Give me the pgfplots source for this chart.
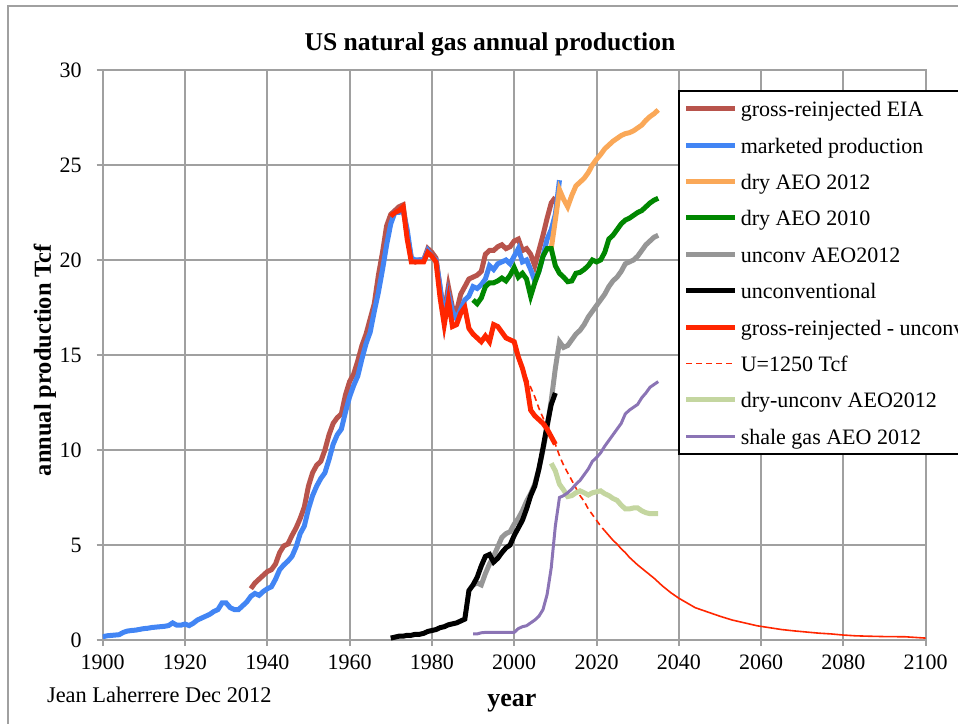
\documentclass[border=0pt]{standalone}
\usepackage{fontspec}
\setmainfont{Liberation Serif}
\usepackage{pgfplots}
\pgfplotsset{compat=1.18}
\definecolor{gridgray}{RGB}{160,160,160}
\definecolor{cbrown}{RGB}{184,84,76}
\definecolor{cblue}{RGB}{66,133,244}
\definecolor{corange}{RGB}{250,168,88}
\definecolor{cgreen}{RGB}{0,135,0}
\definecolor{cgray}{RGB}{150,150,150}
\definecolor{cred}{RGB}{255,38,0}
\definecolor{clgreen}{RGB}{196,214,160}
\definecolor{cpurple}{RGB}{139,116,181}
\begin{document}
\begin{tikzpicture}
\useasboundingbox (-51.35pt,-41.5pt) rectangle (427.65pt,320pt);
\draw[gridgray, line width=1pt] (-47.35pt,-80pt) rectangle (480pt,317pt);
\begin{axis}[
  at={(0pt,0pt)}, anchor=south west,
  scale only axis, width=411.5pt, height=285pt,
  xmin=1900, xmax=2100, ymin=0, ymax=30,
  xtick={1900,1920,...,2100}, ytick={0,5,...,30},
  xtick pos=bottom, ytick pos=left,
  grid=major, major grid style={draw=gridgray, line width=1pt},
  axis line style={draw=gridgray, line width=1pt},
  tick style={draw=gridgray, line width=1pt}, tick align=outside, major tick length=3pt,
  /pgf/number format/assume math mode=true,
  /pgf/number format/1000 sep={},
  xticklabel style={font=\fontsize{11}{13}\selectfont, yshift=-1pt},
  yticklabel style={font=\fontsize{11}{13}\selectfont, xshift=-4pt},
  title={US natural gas annual production},
  title style={at={(axis description cs:0.4706,1.0245)}, anchor=center, yshift=0pt, font=\bfseries\fontsize{12.8}{15}\selectfont},
  xlabel={year},
  xlabel style={at={(axis description cs:0.4973,-0.1105)}, anchor=center, font=\bfseries\fontsize{13}{15}\selectfont},
  ylabel={annual production Tcf},
  ylabel style={at={(axis description cs:-0.0701,0.491)}, anchor=center, font=\bfseries\fontsize{12.2}{15}\selectfont},
  legend cell align=left,
  legend image code/.code={\draw[#1] (0pt,0pt) -- (24.5pt,0pt); \path (25.9pt,0pt);},
  legend style={at={(axis description cs:0.699,0.965)}, anchor=north west,
    draw=black, line width=1pt, fill=white,
    inner xsep=2.5pt, inner ysep=4.4pt, row sep=9.2pt,
    font=\fontsize{11}{13}\selectfont,
    nodes={inner sep=0pt, text height=8.5pt, text depth=0.5pt}},
]
% gross-reinjected EIA
\addplot[cbrown, line width=2.5pt] coordinates {
(1936,2.7)(1937,3.0)(1938,3.2)(1939,3.4)(1940,3.6)(1941,3.7)(1942,4.0)(1943,4.6)(1944,4.95)(1945,5.05)
(1946,5.5)(1947,5.9)(1948,6.4)(1949,7.0)(1950,8.1)(1951,8.8)(1952,9.2)(1953,9.4)(1954,10.0)(1955,10.8)
(1956,11.4)(1957,11.7)(1958,11.9)(1959,12.9)(1960,13.6)(1961,14.0)(1962,14.7)(1963,15.5)(1964,16.1)(1965,16.9)
(1966,17.7)(1967,19.2)(1968,20.4)(1969,21.8)(1970,22.4)(1971,22.6)(1972,22.8)(1973,22.9)(1974,21.3)(1975,20.1)
(1976,19.9)(1977,20.0)(1978,20.0)(1979,20.6)(1980,20.4)(1981,20.1)(1982,18.5)(1983,17.2)(1984,18.6)(1985,17.5)
(1986,17.3)(1987,18.2)(1988,18.6)(1989,19.0)(1990,19.1)(1991,19.2)(1992,19.4)(1993,20.3)(1994,20.5)(1995,20.5)
(1996,20.7)(1997,20.8)(1998,20.6)(1999,20.7)(2000,21.0)(2001,21.1)(2002,20.5)(2003,20.6)(2004,20.3)(2005,19.7)
(2006,20.5)(2007,21.3)(2008,22.2)(2009,23.0)(2010,23.3)};
\addlegendentry{gross-reinjected EIA}
% marketed production
\addplot[cblue, line width=2.5pt] coordinates {
(1900,0.17)(1901,0.22)(1902,0.24)(1903,0.26)(1904,0.28)(1905,0.4)(1906,0.47)(1907,0.5)(1908,0.52)(1909,0.56)
(1910,0.6)(1911,0.62)(1912,0.66)(1913,0.68)(1914,0.7)(1915,0.72)(1916,0.76)(1917,0.9)(1918,0.78)(1919,0.78)
(1920,0.84)(1921,0.76)(1922,0.88)(1923,1.05)(1924,1.15)(1925,1.25)(1926,1.35)(1927,1.5)(1928,1.6)(1929,1.95)
(1930,1.95)(1931,1.7)(1932,1.6)(1933,1.6)(1934,1.8)(1935,2.0)(1936,2.3)(1937,2.45)(1938,2.35)(1939,2.55)
(1940,2.7)(1941,2.8)(1942,3.2)(1943,3.7)(1944,3.95)(1945,4.15)(1946,4.4)(1947,4.9)(1948,5.6)(1949,6.0)
(1950,6.9)(1951,7.6)(1952,8.1)(1953,8.5)(1954,8.8)(1955,9.5)(1956,10.3)(1957,10.8)(1958,11.1)(1959,12.0)
(1960,12.8)(1961,13.4)(1962,13.9)(1963,14.8)(1964,15.6)(1965,16.2)(1966,17.3)(1967,18.3)(1968,19.5)(1969,20.8)
(1970,21.9)(1971,22.5)(1972,22.5)(1973,22.6)(1974,21.6)(1975,20.1)(1976,20.0)(1977,20.0)(1978,20.0)(1979,20.5)
(1980,20.2)(1981,20.0)(1982,18.6)(1983,16.8)(1984,18.2)(1985,17.3)(1986,16.9)(1987,17.4)(1988,17.9)(1989,18.1)
(1990,18.6)(1991,18.5)(1992,18.7)(1993,19.0)(1994,19.7)(1995,19.5)(1996,19.8)(1997,19.9)(1998,20.0)(1999,19.8)
(2000,20.2)(2001,20.6)(2002,19.9)(2003,20.0)(2004,19.5)(2005,18.9)(2006,19.4)(2007,20.2)(2008,21.1)(2009,21.6)
(2010,22.4)(2011,24.2)};
\addlegendentry{marketed production}
% dry AEO 2012
\addplot[corange, line width=2.5pt] coordinates {
(2009,20.6)(2010,22.1)(2011,23.7)(2012,23.2)(2013,22.8)(2014,23.4)(2015,23.9)(2016,24.1)(2017,24.3)(2018,24.6)
(2019,25.0)(2020,25.3)(2021,25.55)(2022,25.85)(2023,26.05)(2024,26.25)(2025,26.4)(2026,26.55)(2027,26.65)(2028,26.7)
(2029,26.8)(2030,26.95)(2031,27.1)(2032,27.35)(2033,27.55)(2034,27.7)(2035,27.9)};
\addlegendentry{dry AEO 2012}
% dry AEO 2010
\addplot[cgreen, line width=2.5pt] coordinates {
(1990,17.9)(1991,17.7)(1992,18.0)(1993,18.6)(1994,18.8)(1995,18.8)(1996,18.9)(1997,19.05)(1998,18.9)(1999,19.2)
(2000,19.6)(2001,19.1)(2002,19.3)(2003,19.0)(2004,18.1)(2005,18.8)(2006,19.4)(2007,20.2)(2008,20.6)(2009,20.6)
(2010,19.7)(2011,19.3)(2012,19.1)(2013,18.86)(2014,18.9)(2015,19.3)(2016,19.35)(2017,19.5)(2018,19.7)(2019,20.0)
(2020,19.9)(2021,20.0)(2022,20.4)(2023,21.1)(2024,21.3)(2025,21.6)(2026,21.9)(2027,22.1)(2028,22.2)(2029,22.35)
(2030,22.5)(2031,22.6)(2032,22.8)(2033,23.0)(2034,23.15)(2035,23.25)};
\addlegendentry{dry AEO 2010}
% unconv AEO2012
\addplot[cgray, line width=2.5pt] coordinates {
(1990,2.9)(1991,3.0)(1992,2.9)(1993,3.5)(1994,4.0)(1995,4.4)(1996,4.9)(1997,5.4)(1998,5.6)(1999,5.7)
(2000,6.1)(2001,6.4)(2002,6.8)(2003,7.3)(2004,7.7)(2005,8.2)(2006,9.0)(2007,10.0)(2008,11.2)(2009,12.6)
(2010,14.3)(2011,15.7)(2012,15.4)(2013,15.5)(2014,15.8)(2015,16.1)(2016,16.3)(2017,16.6)(2018,17.0)(2019,17.3)
(2020,17.6)(2021,17.9)(2022,18.2)(2023,18.6)(2024,18.9)(2025,19.1)(2026,19.4)(2027,19.8)(2028,19.9)(2029,20.0)
(2030,20.2)(2031,20.5)(2032,20.8)(2033,21.0)(2034,21.2)(2035,21.3)};
\addlegendentry{unconv AEO2012}
% unconventional
\addplot[black, line width=2.5pt] coordinates {
(1970,0.1)(1971,0.15)(1972,0.2)(1973,0.2)(1974,0.25)(1975,0.25)(1976,0.3)(1977,0.3)(1978,0.35)(1979,0.45)
(1980,0.5)(1981,0.55)(1982,0.65)(1983,0.7)(1984,0.8)(1985,0.85)(1986,0.9)(1987,1.0)(1988,1.1)(1989,2.6)
(1990,2.9)(1991,3.3)(1992,3.9)(1993,4.4)(1994,4.5)(1995,4.1)(1996,4.3)(1997,4.6)(1998,4.85)(1999,5.0)
(2000,5.5)(2001,5.9)(2002,6.3)(2003,6.9)(2004,7.6)(2005,8.1)(2006,9.0)(2007,10.1)(2008,11.3)(2009,12.4)(2010,13.0)};
\addlegendentry{unconventional}
% gross-reinjected - unconv
\addplot[cred, line width=2.5pt] coordinates {
(1970,22.3)(1971,22.5)(1972,22.6)(1973,22.8)(1974,21.1)(1975,19.9)(1976,19.9)(1977,19.9)(1978,19.9)(1979,20.4)
(1980,20.2)(1981,19.9)(1982,18.0)(1983,16.6)(1984,17.9)(1985,16.5)(1986,16.6)(1987,17.2)(1988,17.5)(1989,16.4)
(1990,16.1)(1991,15.9)(1992,15.7)(1993,16.0)(1994,15.7)(1995,16.6)(1996,16.5)(1997,16.2)(1998,15.9)(1999,15.8)
(2000,15.7)(2001,14.9)(2002,14.3)(2003,13.5)(2004,12.1)(2005,11.8)(2006,11.6)(2007,11.4)(2008,11.1)(2009,10.7)(2010,10.3)};
\addlegendentry{gross-reinjected - unconv}
% U=1250 Tcf
\addplot[cred, line width=0.8pt, dash pattern=on 3pt off 2pt] coordinates {
(2000,15.3)(2001,14.8)(2002,14.3)(2003,13.8)(2004,13.3)(2005,12.8)(2006,12.2)(2007,11.7)(2008,11.2)(2009,10.7)
(2010,10.3)(2011,9.7)(2012,9.2)(2013,8.8)(2014,8.4)(2015,8.0)(2016,7.6)(2017,7.3)(2018,6.9)(2019,6.6)
(2020,6.3)(2021,6.0)(2022,5.75)};
\addlegendentry{U=1250 Tcf}
\addplot[cred, line width=0.8pt, forget plot] coordinates {
(2022,5.75)(2023,5.5)(2024,5.25)(2025,5.05)(2026,4.8)(2027,4.6)(2028,4.35)(2029,4.15)(2030,3.95)(2032,3.6)
(2034,3.25)(2036,2.85)(2038,2.5)(2040,2.2)(2042,1.95)(2044,1.7)(2046,1.55)(2048,1.4)(2050,1.25)(2053,1.05)
(2056,0.9)(2059,0.75)(2062,0.65)(2065,0.55)(2068,0.48)(2071,0.42)(2074,0.36)(2077,0.32)(2080,0.26)(2083,0.22)
(2086,0.2)(2090,0.18)(2095,0.17)(2100,0.1)};
% dry-unconv AEO2012
\addplot[clgreen, line width=2.5pt] coordinates {
(2009,9.3)(2010,8.9)(2011,8.2)(2012,7.9)(2013,7.55)(2014,7.6)(2015,7.75)(2016,7.85)(2017,7.75)(2018,7.63)
(2019,7.75)(2020,7.8)(2021,7.85)(2022,7.7)(2023,7.6)(2024,7.45)(2025,7.35)(2026,7.1)(2027,6.9)(2028,6.9)
(2029,6.95)(2030,6.95)(2031,6.8)(2032,6.7)(2033,6.65)(2034,6.65)(2035,6.65)};
\addlegendentry{dry-unconv AEO2012}
% shale gas AEO 2012
\addplot[cpurple, line width=1.5pt] coordinates {
(1990,0.32)(1991,0.32)(1992,0.38)(1993,0.4)(1994,0.4)(1995,0.4)(1996,0.4)(1997,0.4)(1998,0.4)(1999,0.4)
(2000,0.4)(2001,0.6)(2002,0.7)(2003,0.75)(2004,0.9)(2005,1.05)(2006,1.25)(2007,1.6)(2008,2.4)(2009,3.8)
(2010,6.0)(2011,7.5)(2012,7.6)(2013,7.75)(2014,7.95)(2015,8.2)(2016,8.4)(2017,8.7)(2018,9.0)(2019,9.4)
(2020,9.6)(2021,9.85)(2022,10.2)(2023,10.5)(2024,10.8)(2025,11.1)(2026,11.4)(2027,11.9)(2028,12.1)(2029,12.25)
(2030,12.4)(2031,12.75)(2032,13.0)(2033,13.3)(2034,13.45)(2035,13.6)};
\addlegendentry{shale gas AEO 2012}
\end{axis}
\node[anchor=west, font=\fontsize{11.2}{13}\selectfont] at (-31.35pt,-27.5pt) {Jean Laherrere Dec 2012};
\end{tikzpicture}
\end{document}
